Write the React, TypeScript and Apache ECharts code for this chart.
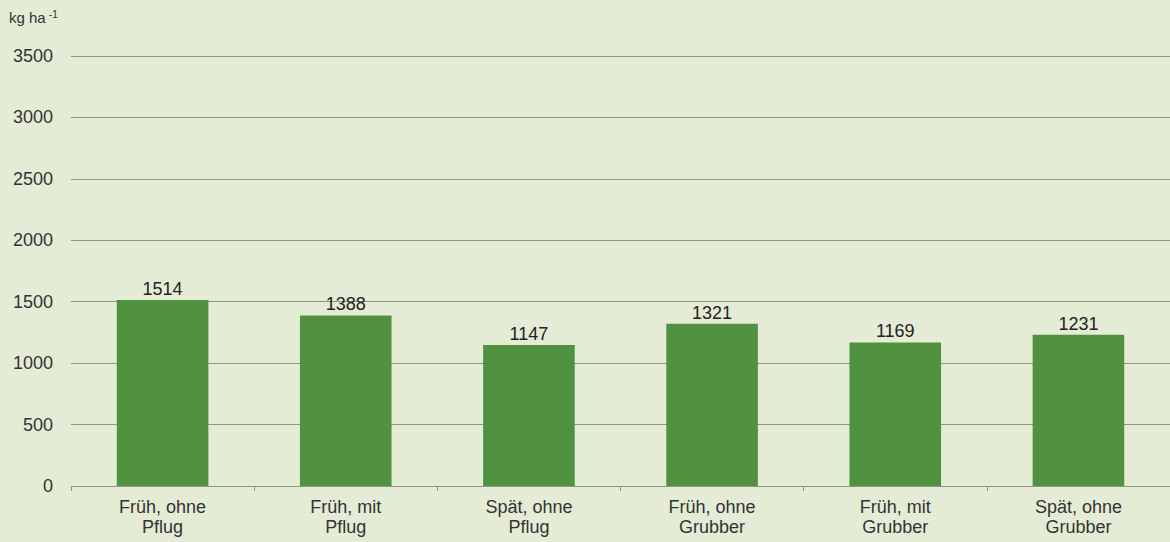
import React, { useEffect, useRef } from "react";
import * as echarts from "echarts";

const categories = [
  "Früh, ohne\nPflug",
  "Früh, mit\nPflug",
  "Spät, ohne\nPflug",
  "Früh, ohne\nGrubber",
  "Früh, mit\nGrubber",
  "Spät, ohne\nGrubber",
];
const values = [1514, 1388, 1147, 1321, 1169, 1231];
const yTicks = { min: 0, max: 3500, interval: 500 };
const unitLabel = "kg ha";
const unitSup = "-1";

export default function App() {
  const ref = useRef<HTMLDivElement>(null);
  useEffect(() => {
    if (!ref.current) return;
    const chart = echarts.init(ref.current, null, { renderer: "svg" });
    const font = "'Liberation Sans', Arial, sans-serif";
    chart.setOption({
      animation: false,
      backgroundColor: "#e4ecd6",
      textStyle: { fontFamily: font },
      grid: { left: 71, right: -5, top: 56, bottom: 56, containLabel: false },
      graphic: [
        {
          type: "text",
          left: 9,
          top: 9,
          style: {
            text: "{a|" + unitLabel + "} {b|" + unitSup + "}",
            rich: {
              a: { fontSize: 15, fill: "#333", fontFamily: font },
              b: { fontSize: 10, fill: "#333", fontFamily: font, verticalAlign: "top", padding: [0, 0, 7, 0] },
            },
          },
        },
      ],
      xAxis: {
        type: "category",
        data: categories,
        axisLine: { lineStyle: { color: "#8c9682", width: 1 } },
        axisTick: { show: true, length: 5, lineStyle: { color: "#8c9682" } },
        axisLabel: { color: "#333", fontSize: 18, lineHeight: 20, margin: 11, fontFamily: font },
      },
      yAxis: {
        type: "value",
        min: yTicks.min,
        max: yTicks.max,
        interval: yTicks.interval,
        axisLine: { show: false },
        axisTick: { show: false },
        splitLine: { lineStyle: { color: "#8c9682", width: 1 } },
        axisLabel: {
          color: "#333",
          fontSize: 18,
          margin: 18,
          fontFamily: font,
          formatter: (v: number) => String(v),
        },
      },
      series: [
        {
          type: "bar",
          data: values,
          barWidth: "50%",
          itemStyle: { color: "#50923f" },
          label: {
            show: true,
            position: "top",
            distance: 2,
            color: "#222",
            fontSize: 18,
            fontFamily: font,
          },
        },
      ],
    });
    return () => chart.dispose();
  }, []);
  return (
    <div
      ref={ref}
      style={{ position: "fixed", left: 0, top: 0, width: 1170, height: 542 }}
    />
  );
}
